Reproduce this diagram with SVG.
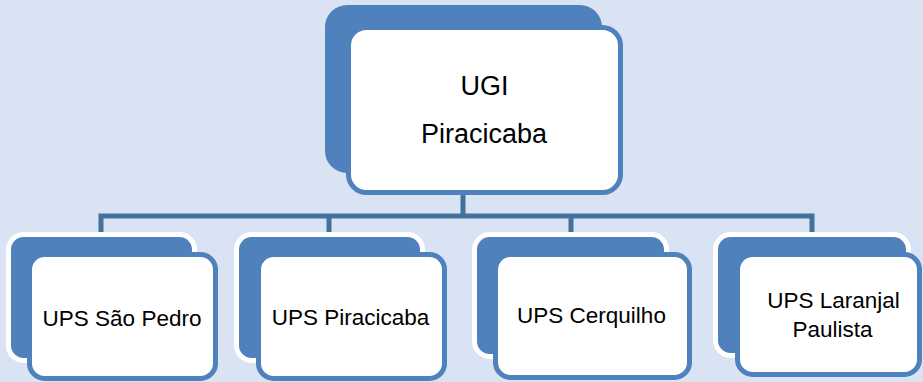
<svg xmlns="http://www.w3.org/2000/svg" width="923" height="382" viewBox="0 0 923 382">
<style>
.back{fill:#4F81BD;stroke:#FFFFFF;stroke-width:5}
.backtop{fill:#4F81BD}
.front{fill:#FFFFFF;stroke:#4F81BD;stroke-width:5}
.lbl{font-family:"Liberation Sans",Arial,sans-serif;font-size:22.5px;fill:#000000;text-anchor:middle}
.big{font-size:27px}
.conn{fill:none;stroke:#41719C;stroke-width:5}
</style>
<rect x="0" y="0" width="923" height="382" fill="#DAE3F3"/>
<g id="connectors">
<line class="conn" x1="463" y1="193" x2="463" y2="216"/>
<polyline class="conn" points="101,234 101,216 812,216 812,234"/>
<line class="conn" x1="329" y1="216" x2="329" y2="234"/>
<line class="conn" x1="571" y1="216" x2="571" y2="234"/>
</g>
<g id="ugi">
<rect class="backtop" x="325" y="5" width="277" height="168" rx="22"/>
<rect class="front" x="348.5" y="27.5" width="272" height="165" rx="18"/>
<text class="lbl big" x="484.5" y="95">UGI</text>
<text class="lbl big" x="484" y="143">Piracicaba</text>
</g>
<g id="ups-sao-pedro">
<rect class="back" x="8.5" y="234.5" width="186" height="126" rx="15"/>
<rect class="front" x="29.5" y="254.5" width="186" height="124" rx="15"/>
<text class="lbl" x="122" y="326">UPS São Pedro</text>
</g>
<g id="ups-piracicaba">
<rect class="back" x="236.5" y="234.5" width="186" height="126" rx="15"/>
<rect class="front" x="258.5" y="254.5" width="186" height="124" rx="15"/>
<text class="lbl" x="350.5" y="325">UPS Piracicaba</text>
</g>
<g id="ups-cerquilho">
<rect class="back" x="474.5" y="234.5" width="192" height="122" rx="15"/>
<rect class="front" x="495.5" y="254.5" width="194" height="123" rx="15"/>
<text class="lbl" x="591.5" y="323">UPS Cerquilho</text>
</g>
<g id="ups-laranjal-paulista">
<rect class="back" x="715.5" y="234.5" width="193" height="121" rx="15"/>
<rect class="front" x="737.5" y="254.5" width="182" height="120" rx="15"/>
<text class="lbl" x="833.5" y="308">UPS Laranjal</text>
<text class="lbl" x="832.5" y="337">Paulista</text>
</g>
</svg>
